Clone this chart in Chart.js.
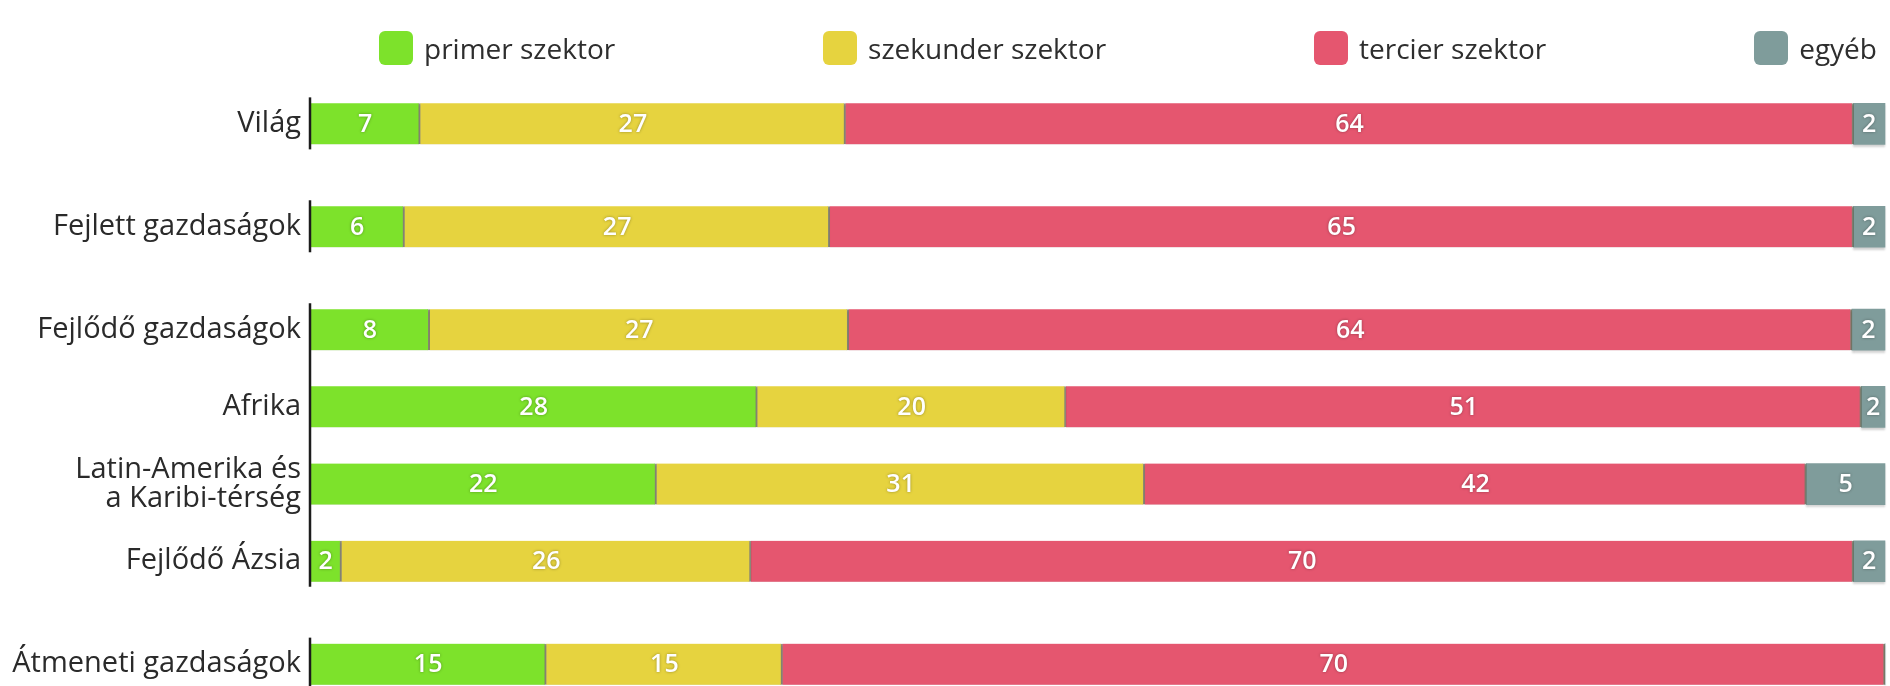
<!DOCTYPE html>
<html>
<head>
<meta charset="utf-8">
<script src="https://cdn.jsdelivr.net/npm/chart.js@4.4.1/dist/chart.umd.min.js"></script>
<style>
  html, body { margin: 0; padding: 0; background: #fff; overflow: hidden; }
  #wrap { position: relative; width: 1890px; height: 686px; }
  #sectorChart { display: block; }
  #legend {
    position: absolute; left: 379px; right: 13px; top: 30px; height: 36px;
    display: flex; justify-content: space-between; align-items: center;
    font-family: "Open Sans", sans-serif; font-size: 28px; color: #2e2e2e;
  }
  #legend .item { display: flex; align-items: center; }
  #legend .box { width: 34px; height: 34px; border-radius: 6px; margin-right: 11px; }
</style>
</head>
<body>
<div id="wrap">
  <div id="legend"></div>
  <canvas id="sectorChart" width="1890" height="686"></canvas>
</div>
<script>
// Data (percent of total)
const categories = ['Világ', 'Fejlett gazdaságok', 'Fejlődő gazdaságok', 'Afrika',
  ['Latin-Amerika és', 'a Karibi-térség'], 'Fejlődő Ázsia', 'Átmeneti gazdaságok'];
const primer    = [7, 6, 7.6, 28.4, 22, 2, 15];
const szekunder = [27, 27, 26.6, 19.6, 31, 26, 15];
const tercier   = [64, 65, 63.7, 50.5, 42, 70, 70];
const egyeb     = [2, 2, 2.1, 1.5, 5, 2, 0];

const seriesNames = ['primer szektor', 'szekunder szektor', 'tercier szektor', 'egyéb'];
const colors = ['#7de22b', '#e6d33f', '#e5566f', '#7f9c9b'];

// Layout: empty slots between rows, and which rows share one axis line
const slotsAfter = [4, 4, 3, 3, 3, 4];
const axisGroups = [[0, 0], [1, 1], [2, 5], [6, 6]];

// Spread the rows over the category axis
const labels = [];
const rowSlot = [];
categories.forEach((c, i) => {
  rowSlot.push(labels.length);
  labels.push(c);
  for (let k = 1; k < (slotsAfter[i] || 0); k++) labels.push('');
});
function spread(values) {
  const out = labels.map(() => null);
  values.forEach((v, i) => { out[rowSlot[i]] = v; });
  return out;
}

const BAR = 41;

// soft shadow under the bars
const barShadow = {
  id: 'barShadow',
  beforeDatasetsDraw(chart) {
    const ctx = chart.ctx;
    ctx.save();
    ctx.shadowColor = 'rgba(0,0,0,0.18)';
    ctx.shadowOffsetY = 2;
    ctx.shadowBlur = 2;
  },
  afterDatasetsDraw(chart) {
    chart.ctx.restore();
  }
};

// Value labels in the middle of each segment
const valueLabels = {
  id: 'valueLabels',
  afterDatasetsDraw(chart) {
    const ctx = chart.ctx;
    ctx.save();
    ctx.font = '600 25px "Open Sans", sans-serif';
    ctx.textAlign = 'center';
    ctx.textBaseline = 'middle';
    ctx.fillStyle = '#ffffff';
    ctx.shadowColor = 'rgba(0,0,0,0.35)';
    ctx.shadowBlur = 3;
    chart.data.datasets.forEach((ds, i) => {
      chart.getDatasetMeta(i).data.forEach((bar, j) => {
        const v = ds.data[j];
        if (!v) return;
        const p = bar.getCenterPoint();
        ctx.fillText(String(Math.round(v)), p.x, p.y + 1);
      });
    });
    ctx.restore();
  }
};

// Axis line split into groups
const groupAxis = {
  id: 'groupAxis',
  afterDatasetsDraw(chart) {
    const ctx = chart.ctx;
    const y = chart.scales.y;
    const x = chart.chartArea.left;
    ctx.save();
    ctx.strokeStyle = '#1c1c1c';
    ctx.lineWidth = 2.5;
    axisGroups.forEach(([a, b]) => {
      const top = y.getPixelForValue(rowSlot[a]) - BAR / 2 - 6;
      const bottom = y.getPixelForValue(rowSlot[b]) + BAR / 2 + 5;
      ctx.beginPath();
      ctx.moveTo(x, top);
      ctx.lineTo(x, bottom);
      ctx.stroke();
    });
    ctx.restore();
  }
};

const seriesData = [primer, szekunder, tercier, egyeb];
const ctx = document.getElementById('sectorChart').getContext('2d');
const chart = new Chart(ctx, {
  type: 'bar',
  data: {
    labels: labels,
    datasets: seriesData.map((d, i) => ({
      label: seriesNames[i],
      data: spread(d),
      backgroundColor: colors[i],
      borderColor: 'rgba(60,55,25,0.55)',
      borderWidth: { left: 0, top: 0, bottom: 0, right: i < 3 ? 2 : 0 },
      borderSkipped: false,
      barThickness: BAR,
      clip: false
    }))
  },
  options: {
    indexAxis: 'y',
    responsive: false,
    animation: false,
    layout: { padding: { top: 111, bottom: 9, right: 5, left: 0 } },
    plugins: {
      legend: { display: false },
      tooltip: { enabled: false }
    },
    scales: {
      x: {
        stacked: true,
        min: 0,
        max: 100,
        display: false
      },
      y: {
        stacked: true,
        grid: { display: false, drawTicks: false },
        border: { display: false },
        afterFit(scale) {
          scale.width = 310;
          scale.paddingTop = 0;
          scale.paddingBottom = 0;
        },
        ticks: {
          autoSkip: false,
          padding: 9,
          color: '#2a2a2a',
          font: { family: '"Open Sans", sans-serif', size: 29, weight: '500', lineHeight: 1.0 }
        }
      }
    }
  },
  plugins: [barShadow, valueLabels, groupAxis]
});

// HTML legend built from the datasets
const legend = document.getElementById('legend');
chart.data.datasets.forEach(ds => {
  const item = document.createElement('div');
  item.className = 'item';
  const box = document.createElement('span');
  box.className = 'box';
  box.style.background = ds.backgroundColor;
  const txt = document.createElement('span');
  txt.textContent = ds.label;
  item.appendChild(box);
  item.appendChild(txt);
  legend.appendChild(item);
});
</script>
</body>
</html>
